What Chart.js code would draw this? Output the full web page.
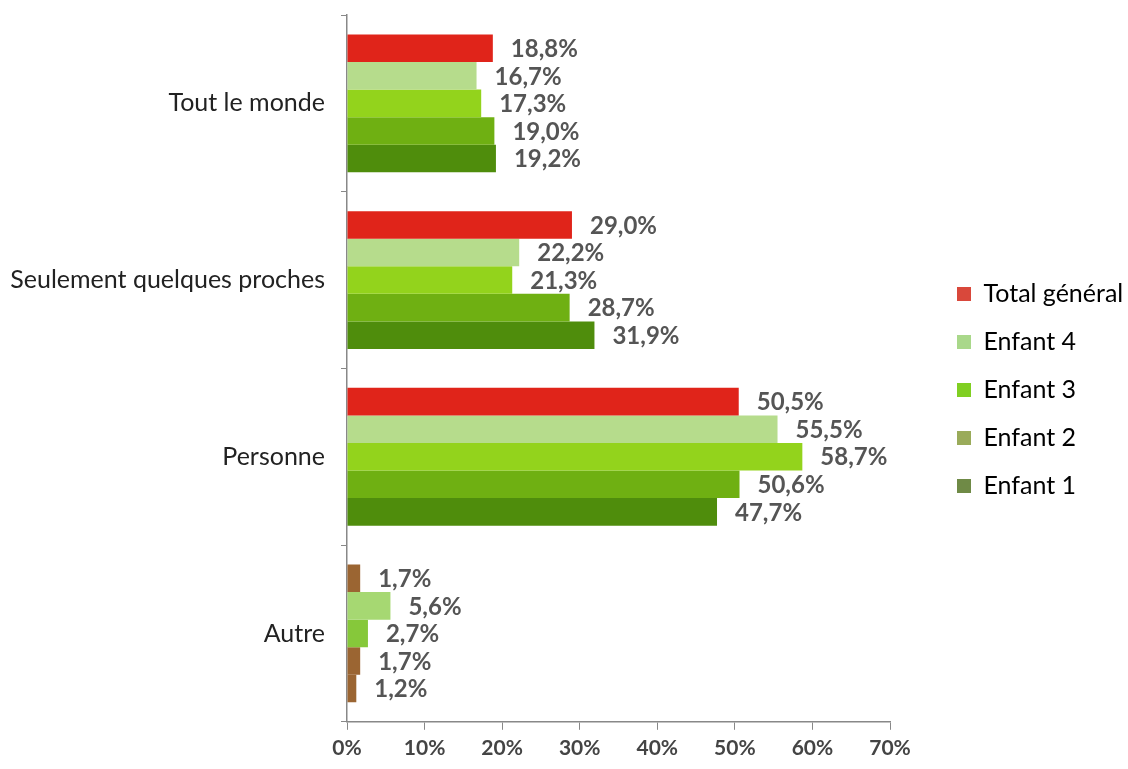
<!DOCTYPE html>
<html>
<head>
<meta charset="utf-8">
<script src="https://cdn.jsdelivr.net/npm/chart.js@4.4.1/dist/chart.umd.min.js"></script>
<style>
  html, body { margin: 0; padding: 0; background: #fff; }
  #wrap { width: 1128px; height: 769px; position: relative; }
</style>
</head>
<body>
<div id="wrap"><canvas id="chart"></canvas></div>
<script>
// catégories et séries
const categories = ['Tout le monde', 'Seulement quelques proches', 'Personne', 'Autre'];
const totalGeneral = [18.8, 29.0, 50.5, 1.7];
const enfant4 = [16.7, 22.2, 55.5, 5.6];
const enfant3 = [17.3, 21.3, 58.7, 2.7];
const enfant2 = [19.0, 28.7, 50.6, 1.7];
const enfant1 = [19.2, 31.9, 47.7, 1.2];
const xTicks = [0, 10, 20, 30, 40, 50, 60, 70];

// couleurs des barres (la catégorie "Autre" est brune sur l'original)
const brown = '#9b6532';
const series = [
  { label: 'Total général', data: totalGeneral, color: ['#e0241a', '#e0241a', '#e0241a', brown], legend: '#d9483b' },
  { label: 'Enfant 4', data: enfant4, color: ['#b6dc8c', '#b6dc8c', '#b6dc8c', '#a6d872'], legend: '#a9d88a' },
  { label: 'Enfant 3', data: enfant3, color: ['#93d31c', '#93d31c', '#93d31c', '#86c83a'], legend: '#80cf22' },
  { label: 'Enfant 2', data: enfant2, color: ['#6fb012', '#6fb012', '#6fb012', brown], legend: '#9aab5a' },
  { label: 'Enfant 1', data: enfant1, color: ['#4f8d0c', '#4f8d0c', '#4f8d0c', brown], legend: '#6f8a46' }
];

function fmt(v) {
  return v.toFixed(1).replace('.', ',') + '%';
}

// étiquettes de valeur à droite des barres
const valueLabels = {
  id: 'valueLabels',
  afterDatasetsDraw(chart) {
    const ctx = chart.ctx;
    ctx.save();
    ctx.font = 'bold 24px Lato';
    ctx.fillStyle = '#555';
    ctx.textAlign = 'left';
    ctx.textBaseline = 'middle';
    chart.data.datasets.forEach((ds, i) => {
      const meta = chart.getDatasetMeta(i);
      meta.data.forEach((bar, j) => {
        ctx.fillText(fmt(ds.data[j]), bar.x + 18, bar.y + 1);
      });
    });
    ctx.restore();
  }
};

// la légende est placée plus à droite que ne le permet la mise en page
const legendPlace = {
  id: 'legendPlace',
  beforeUpdate(chart) {
    const lg = chart.legend;
    if (!lg || lg._placed) return;
    lg._placed = true;
    const fit = lg.fit.bind(lg);
    lg.fit = function () { fit(); this.width = 238; };
    const draw = lg.draw.bind(lg);
    lg.draw = function () {
      chart.ctx.save();
      chart.ctx.translate(44, -1);
      draw();
      chart.ctx.restore();
    };
  }
};

new Chart(document.getElementById('chart'), {
  type: 'bar',
  data: {
    labels: categories,
    datasets: series.map(s => ({
      label: s.label,
      data: s.data,
      backgroundColor: s.color,
      legendColor: s.legend,
      borderWidth: 0,
      categoryPercentage: 0.78,
      barPercentage: 1
    }))
  },
  options: {
    indexAxis: 'y',
    responsive: true,
    maintainAspectRatio: false,
    animation: false,
    layout: { padding: { top: 15, left: 0, right: 0, bottom: 2 } },
    plugins: {
      tooltip: { enabled: false },
      legend: {
        position: 'right',
        labels: {
          font: { family: 'Lato', size: 25 },
          color: '#333',
          boxWidth: 14,
          boxHeight: 14,
          padding: 23,
          generateLabels(chart) {
            return chart.data.datasets.map((ds, i) => ({
              text: ds.label,
              fillStyle: ds.legendColor,
              strokeStyle: ds.legendColor,
              lineWidth: 0,
              hidden: false,
              datasetIndex: i
            }));
          }
        }
      }
    },
    scales: {
      x: {
        min: 0,
        max: 70,
        afterBuildTicks(axis) {
          axis.ticks = xTicks.map(v => ({ value: v }));
        },
        ticks: {
          font: { family: 'Lato', size: 21, weight: 'bold' },
          color: '#444',
          padding: 6,
          callback: v => v + '%'
        },
        grid: { drawOnChartArea: false, tickLength: 8, color: '#888' },
        border: { color: '#888', width: 1.5 }
      },
      y: {
        afterFit(axis) {
          axis.width = 347;
          axis.paddingTop = 0;
          axis.paddingBottom = 0;
        },
        ticks: {
          font: { family: 'Lato', size: 25 },
          color: '#222',
          padding: 16
        },
        grid: { drawOnChartArea: false, tickLength: 6, color: '#888', offset: true },
        border: { color: '#888', width: 1.5 }
      }
    }
  },
  plugins: [valueLabels, legendPlace]
});
</script>
</body>
</html>
